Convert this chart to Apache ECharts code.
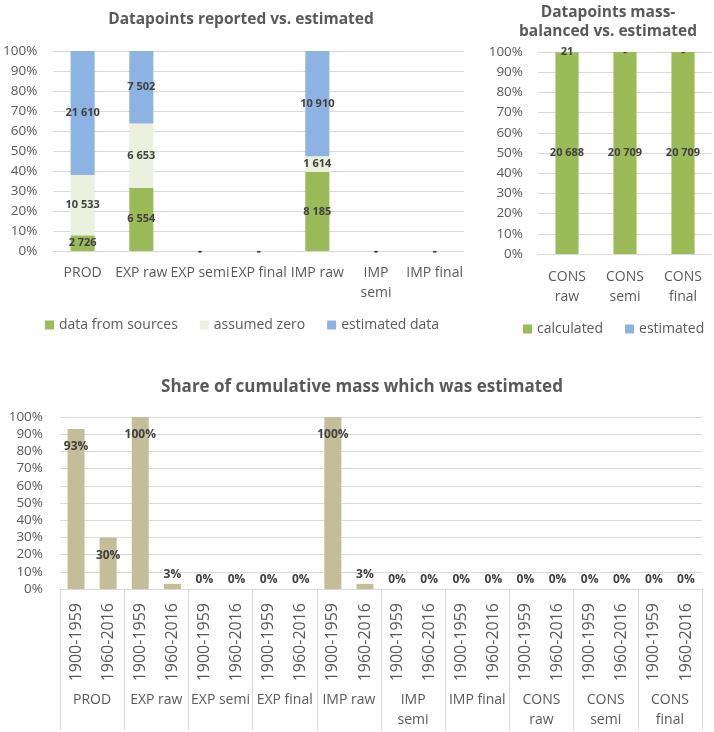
<!DOCTYPE html>
<html>
<head>
<meta charset="utf-8">
<script src="https://cdn.jsdelivr.net/npm/echarts@6/dist/echarts.min.js"></script>
<style>
html,body{margin:0;padding:0;background:#fff;}
#chart{width:714px;height:732px;}
</style>
</head>
<body>
<div id="chart"></div>
<script>
// ---- data ----
const topCats = ['PROD', 'EXP raw', 'EXP semi', 'EXP final', 'IMP raw', 'IMP semi', 'IMP final'];
const fromSources = [2726, 6554, 0, 0, 8185, 0, 0];
const assumedZero = [10533, 6653, 0, 0, 1614, 0, 0];
const estimatedData = [21610, 7502, 0, 0, 10910, 0, 0];

const consCats = ['CONS raw', 'CONS semi', 'CONS final'];
const calculated = [20688, 20709, 20709];
const consEstimated = [21, 0, 0];

const groups = ['PROD', 'EXP raw', 'EXP semi', 'EXP final', 'IMP raw', 'IMP semi', 'IMP final', 'CONS raw', 'CONS semi', 'CONS final'];
const periods = ['1900-1959', '1960-2016'];
const shareEstimated = [93, 30, 100, 3, 0, 0, 0, 0, 100, 3, 0, 0, 0, 0, 0, 0, 0, 0, 0, 0];

const yTicks = [0, 10, 20, 30, 40, 50, 60, 70, 80, 90, 100];

// labels that wrap onto two lines in the original
const wrapped = ['IMP semi', 'CONS raw', 'CONS semi', 'CONS final'];

// ---- helpers ----
const FONT = '"Open Sans", "Noto Sans", sans-serif';
const GRID_C = '#d9d9d9';
const AXIS_C = '#595959';
const LABEL_C = '#404040';

function fmtNum(n) { return n === 0 ? '-' : String(n).replace(/\B(?=(\d{3})+(?!\d))/g, ' '); }
function wrapLabel(v) { return wrapped.indexOf(v) >= 0 ? v.replace(' ', '\n') : v; }

function pctData(seriesArr, allSeries) {
  return seriesArr.map(function (v, i) {
    let tot = 0;
    allSeries.forEach(function (s) { tot += s[i]; });
    return { value: tot ? v / tot * 100 : 0, raw: v };
  });
}

const topAll = [fromSources, assumedZero, estimatedData];
const consAll = [calculated, consEstimated];

const innerCats = [];
groups.forEach(function () { periods.forEach(function (p) { innerCats.push(p); }); });

function yAxis(gi, margin) {
  return {
    gridIndex: gi, type: 'value', min: yTicks[0], max: yTicks[yTicks.length - 1], interval: yTicks[1] - yTicks[0],
    axisLine: { show: false }, axisTick: { show: false },
    splitLine: { lineStyle: { color: GRID_C, width: 1 } },
    axisLabel: { formatter: '{value}%', color: AXIS_C, fontSize: 13.5, fontFamily: FONT, margin: margin }
  };
}

const barLabel = {
  show: true, position: 'inside', color: LABEL_C, fontSize: 11, fontWeight: 'bold', fontFamily: FONT,
  formatter: function (p) { return fmtNum(p.data.raw); }
};

const chart = echarts.init(document.getElementById('chart'), null, { renderer: 'canvas' });

const titleStyle = { fontSize: 15.5, fontWeight: 'bold', color: AXIS_C, fontFamily: FONT };

const option = {
  backgroundColor: '#ffffff',
  animation: false,
  title: [
    { text: 'Datapoints reported vs. estimated', left: 236, top: 7, textAlign: 'center', textStyle: titleStyle },
    { text: 'Datapoints mass-\nbalanced vs. estimated', left: 603, top: -2, textAlign: 'center',
      textStyle: Object.assign({}, titleStyle, { lineHeight: 19 }) },
    { text: 'Share of cumulative mass which was estimated', left: 357, top: 374, textAlign: 'center',
      textStyle: Object.assign({}, titleStyle, { fontSize: 17 }) }
  ],
  legend: [
    { data: ['data from sources', 'assumed zero', 'estimated data'], left: 45, top: 318, padding: 0,
      icon: 'rect', itemWidth: 9, itemHeight: 9, itemGap: 22,
      textStyle: { color: AXIS_C, fontSize: 14, fontFamily: FONT } },
    { data: ['calculated', 'estimated'], left: 523, top: 322, padding: 0, width: 191, orient: 'horizontal',
      icon: 'rect', itemWidth: 9, itemHeight: 9, itemGap: 22,
      textStyle: { color: AXIS_C, fontSize: 14, fontFamily: FONT } }
  ],
  grid: [
    { left: 50, top: 51, width: 414, height: 200 },
    { left: 538, top: 52, width: 174, height: 202 },
    { left: 60, top: 417, width: 642, height: 172 }
  ],
  xAxis: [
    { gridIndex: 0, type: 'category', data: topCats,
      axisLine: { lineStyle: { color: GRID_C } }, axisTick: { show: false },
      axisLabel: { interval: 0, color: AXIS_C, fontSize: 14, fontFamily: FONT, margin: 12, lineHeight: 20, formatter: wrapLabel } },
    { gridIndex: 1, type: 'category', data: consCats,
      axisLine: { lineStyle: { color: GRID_C } }, axisTick: { show: false },
      axisLabel: { interval: 0, color: AXIS_C, fontSize: 14, fontFamily: FONT, margin: 13, lineHeight: 20, formatter: wrapLabel } },
    { gridIndex: 2, type: 'category', data: innerCats, position: 'bottom',
      axisLine: { lineStyle: { color: GRID_C } }, axisTick: { show: false },
      axisLabel: { interval: 0, rotate: 90, color: AXIS_C, fontSize: 16, fontFamily: FONT, margin: 14 } },
    { gridIndex: 2, type: 'category', data: groups, position: 'bottom',
      axisLine: { show: false },
      axisTick: { show: true, interval: 0, length: 141, lineStyle: { color: GRID_C } },
      axisLabel: { interval: 0, color: AXIS_C, fontSize: 14, fontFamily: FONT, margin: 101, lineHeight: 20, formatter: wrapLabel } }
  ],
  yAxis: [yAxis(0, 16), yAxis(1, 15), yAxis(2, 17)],
  series: [
    { name: 'data from sources', type: 'bar', stack: 'top', xAxisIndex: 0, yAxisIndex: 0, barWidth: '41%',
      itemStyle: { color: '#9BBB59' }, label: barLabel, data: pctData(fromSources, topAll) },
    { name: 'assumed zero', type: 'bar', stack: 'top', xAxisIndex: 0, yAxisIndex: 0, barWidth: '41%',
      itemStyle: { color: '#EBF1DE' }, label: barLabel, data: pctData(assumedZero, topAll) },
    { name: 'estimated data', type: 'bar', stack: 'top', xAxisIndex: 0, yAxisIndex: 0, barWidth: '41%',
      itemStyle: { color: '#8DB3E2' }, label: barLabel, data: pctData(estimatedData, topAll) },
    { name: 'calculated', type: 'bar', stack: 'cons', xAxisIndex: 1, yAxisIndex: 1, barWidth: '40%',
      itemStyle: { color: '#9BBB59' }, label: barLabel, data: pctData(calculated, consAll) },
    { name: 'estimated', type: 'bar', stack: 'cons', xAxisIndex: 1, yAxisIndex: 1, barWidth: '40%',
      itemStyle: { color: '#8DB3E2' }, label: barLabel, data: pctData(consEstimated, consAll) },
    { name: 'Share of cumulative mass which was estimated', type: 'bar', xAxisIndex: 2, yAxisIndex: 2, barWidth: '53%',
      itemStyle: { color: '#C4BD97' },
      data: shareEstimated.map(function (v) {
        return { value: v, label: v >= 10 ? { position: 'insideTop', distance: 12 } : { position: 'top', distance: 3 } };
      }),
      label: { show: true, color: LABEL_C, fontSize: 12, fontWeight: 'bold', fontFamily: FONT, formatter: '{c}%' } }
  ]
};

chart.setOption(option);
</script>
</body>
</html>
